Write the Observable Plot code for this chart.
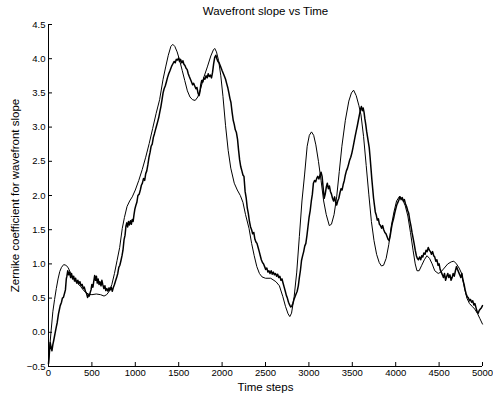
<!DOCTYPE html>
<html>
<head>
<meta charset="utf-8">
<script src="https://cdn.jsdelivr.net/npm/d3@7"></script>
<script src="https://cdn.jsdelivr.net/npm/@observablehq/plot@0.6"></script>
<style>
  html, body { margin: 0; padding: 0; background: #fff; }
  #chart { width: 493px; height: 397px; }
</style>
</head>
<body>
<div id="chart"></div>
<script>
const titleText = "Wavefront slope vs Time";
const xLabel = "Time steps";
const yLabel = "Zernike coefficient for wavefront slope";
const xTicks = [0, 500, 1000, 1500, 2000, 2500, 3000, 3500, 4000, 4500, 5000];
const yTicks = [-0.5, 0, 0.5, 1, 1.5, 2, 2.5, 3, 3.5, 4, 4.5];

// Smooth curve
const smoothT = [0,15,30,50,70,90,110,130,150,175,200,225,250,280,310,340,370,400,430,460,500,550,600,640,670,700,730,760,790,820,850,875,905,935,965,1000,1040,1080,1120,1160,1200,1240,1280,1320,1350,1380,1410,1432,1455,1482,1510,1540,1570,1600,1630,1660,1690,1720,1750,1790,1830,1870,1900,1915,1935,1960,1985,2010,2040,2070,2100,2140,2175,2210,2240,2270,2310,2340,2370,2400,2430,2460,2500,2560,2620,2660,2700,2730,2760,2780,2800,2830,2860,2890,2920,2950,2980,3005,3030,3055,3080,3110,3140,3170,3200,3235,3260,3290,3320,3350,3380,3420,3460,3490,3515,3545,3575,3600,3630,3660,3690,3720,3750,3780,3810,3835,3860,3890,3920,3950,3980,4010,4045,4080,4110,4140,4170,4200,4225,4245,4270,4300,4330,4360,4390,4420,4450,4490,4520,4560,4600,4640,4670,4700,4730,4760,4790,4820,4850,4880,4910,4940,4970,5000];
const smoothV = [-0.46,-0.20,0.02,0.30,0.48,0.64,0.78,0.89,0.95,0.99,0.98,0.95,0.88,0.80,0.75,0.71,0.67,0.62,0.58,0.56,0.55,0.56,0.55,0.53,0.55,0.60,0.70,0.86,1.05,1.24,1.52,1.68,1.84,1.92,1.98,2.08,2.22,2.38,2.56,2.76,2.98,3.20,3.40,3.70,3.88,4.05,4.18,4.21,4.18,4.10,3.98,3.83,3.68,3.53,3.44,3.40,3.39,3.44,3.55,3.73,3.88,4.04,4.13,4.15,4.10,3.97,3.75,3.45,3.02,2.66,2.40,2.18,2.08,2.00,1.90,1.72,1.52,1.30,1.12,0.96,0.86,0.81,0.79,0.79,0.74,0.68,0.52,0.38,0.27,0.23,0.28,0.52,0.88,1.40,1.92,2.30,2.72,2.88,2.93,2.88,2.74,2.50,2.22,1.92,1.72,1.56,1.58,1.72,1.98,2.35,2.72,3.10,3.38,3.50,3.54,3.46,3.32,3.18,2.86,2.44,2.02,1.62,1.34,1.14,1.02,0.97,0.98,1.08,1.28,1.56,1.76,1.92,1.99,1.94,1.85,1.70,1.46,1.20,1.00,0.90,0.90,0.98,1.06,1.12,1.08,1.00,0.90,0.86,0.88,0.94,1.00,1.03,1.04,1.00,0.94,0.86,0.66,0.50,0.42,0.38,0.34,0.28,0.20,0.12];

// Noisy measured curve
const noisyT = [0,10,20,30,40,50,60,75,90,100,115,125,135,150,160,172,185,195,205,212,222,232,242,255,265,278,290,300,312,325,338,350,362,375,388,400,412,425,438,450,460,470,480,490,500,512,522,532,542,552,562,572,582,592,605,615,625,638,650,660,672,685,698,710,722,735,748,760,772,785,798,810,822,835,847,858,870,882,892,902,912,922,932,945,955,965,975,985,995,1005,1018,1030,1045,1058,1070,1082,1095,1108,1120,1132,1145,1158,1170,1182,1195,1208,1220,1232,1245,1258,1270,1282,1295,1308,1320,1332,1345,1358,1370,1385,1398,1410,1422,1435,1448,1460,1472,1485,1498,1510,1522,1535,1548,1560,1572,1585,1598,1610,1622,1635,1648,1660,1672,1685,1698,1710,1722,1735,1745,1755,1765,1778,1790,1802,1815,1828,1840,1852,1865,1878,1890,1902,1915,1928,1940,1952,1965,1978,1990,2002,2015,2028,2040,2052,2065,2078,2090,2102,2115,2128,2140,2152,2165,2178,2190,2202,2215,2228,2240,2252,2265,2278,2290,2302,2315,2328,2340,2352,2365,2378,2390,2402,2415,2428,2440,2452,2465,2478,2490,2502,2515,2528,2540,2552,2565,2578,2590,2602,2615,2628,2640,2652,2665,2678,2690,2702,2715,2728,2740,2752,2765,2778,2790,2802,2815,2828,2840,2852,2865,2878,2890,2902,2915,2928,2940,2952,2965,2978,2990,3002,3015,3028,3040,3052,3065,3078,3090,3102,3115,3128,3140,3152,3165,3176,3188,3200,3212,3224,3236,3248,3260,3272,3284,3296,3308,3320,3332,3345,3358,3370,3382,3395,3408,3420,3432,3445,3458,3470,3482,3495,3508,3520,3532,3545,3558,3570,3582,3594,3605,3615,3625,3635,3645,3655,3665,3675,3685,3695,3705,3715,3725,3735,3745,3755,3765,3775,3788,3800,3812,3825,3838,3850,3862,3875,3888,3900,3912,3925,3938,3950,3962,3975,3988,4000,4012,4025,4038,4050,4062,4075,4088,4100,4112,4125,4138,4150,4162,4175,4188,4200,4212,4225,4238,4250,4262,4275,4288,4300,4312,4325,4338,4350,4362,4375,4388,4400,4412,4425,4438,4450,4462,4475,4488,4500,4512,4525,4538,4550,4562,4575,4588,4600,4612,4625,4638,4650,4662,4675,4688,4700,4712,4725,4738,4750,4762,4775,4788,4800,4812,4825,4838,4850,4862,4875,4888,4900,4912,4925,4938,4950,4962,4975,4988,5000];
const noisyV = [-0.46,-0.30,-0.15,-0.22,-0.27,-0.18,-0.12,-0.02,0.08,0.14,0.27,0.33,0.39,0.44,0.50,0.51,0.57,0.62,0.78,0.82,0.90,0.84,0.88,0.80,0.86,0.78,0.82,0.75,0.79,0.72,0.76,0.71,0.74,0.68,0.70,0.64,0.66,0.60,0.57,0.51,0.55,0.53,0.58,0.62,0.70,0.66,0.75,0.83,0.76,0.82,0.72,0.78,0.70,0.74,0.68,0.76,0.70,0.64,0.68,0.61,0.64,0.60,0.65,0.62,0.66,0.60,0.66,0.70,0.75,0.80,0.86,0.95,0.98,1.05,1.12,1.20,1.35,1.42,1.55,1.60,1.54,1.62,1.57,1.63,1.58,1.65,1.62,1.72,1.80,1.85,1.90,2.00,2.02,2.08,2.15,2.18,2.25,2.22,2.32,2.36,2.45,2.56,2.63,2.72,2.75,2.85,2.90,2.96,3.02,3.08,3.14,3.22,3.30,3.40,3.50,3.56,3.60,3.66,3.72,3.78,3.82,3.86,3.90,3.93,3.96,3.94,3.99,3.98,4.01,3.96,3.99,3.94,3.97,3.92,3.90,3.86,3.84,3.78,3.74,3.70,3.66,3.62,3.64,3.60,3.56,3.58,3.50,3.46,3.52,3.62,3.68,3.66,3.72,3.70,3.75,3.72,3.78,3.74,3.76,3.72,3.80,3.92,4.02,4.05,4.00,3.96,3.94,3.90,3.86,3.82,3.78,3.74,3.70,3.64,3.58,3.50,3.42,3.36,3.22,3.10,3.04,2.96,2.92,2.82,2.66,2.52,2.42,2.36,2.30,2.28,2.06,1.96,1.82,1.74,1.62,1.54,1.50,1.44,1.46,1.36,1.32,1.30,1.24,1.18,1.12,1.06,1.02,1.00,0.96,0.92,0.94,0.88,0.90,0.86,0.90,0.85,0.88,0.84,0.86,0.82,0.85,0.80,0.82,0.76,0.78,0.72,0.66,0.60,0.54,0.50,0.44,0.40,0.37,0.38,0.42,0.48,0.52,0.56,0.60,0.68,0.80,0.90,1.05,1.12,1.18,1.26,1.30,1.42,1.55,1.68,1.78,1.92,2.02,2.18,2.22,2.20,2.25,2.28,2.24,2.30,2.34,2.28,2.10,1.96,2.02,2.12,2.18,2.10,2.14,2.06,2.02,1.96,1.92,1.98,1.90,1.86,1.92,1.96,2.04,2.10,2.08,2.16,2.22,2.30,2.36,2.40,2.46,2.52,2.56,2.62,2.70,2.78,2.86,2.94,3.02,3.10,3.18,3.26,3.30,3.24,3.28,3.22,3.12,3.04,2.94,2.86,2.78,2.70,2.56,2.40,2.24,2.10,1.96,1.86,1.76,1.72,1.64,1.66,1.58,1.56,1.52,1.56,1.50,1.46,1.44,1.40,1.36,1.34,1.42,1.52,1.60,1.66,1.74,1.80,1.86,1.90,1.94,1.98,1.94,1.97,1.92,1.94,1.88,1.84,1.78,1.74,1.64,1.56,1.46,1.38,1.30,1.20,1.12,1.08,1.06,1.10,1.06,1.12,1.10,1.16,1.14,1.20,1.18,1.24,1.20,1.18,1.14,1.18,1.12,1.10,1.04,1.06,0.98,1.00,0.92,0.88,0.84,0.80,0.86,0.76,0.82,0.86,0.80,0.84,0.76,0.80,0.86,0.82,0.90,0.96,0.92,0.88,0.84,0.80,0.86,0.76,0.70,0.62,0.56,0.52,0.50,0.46,0.48,0.44,0.46,0.40,0.42,0.36,0.30,0.28,0.32,0.34,0.36,0.39];

const smooth = smoothT.map((t, i) => ({t, v: smoothV[i]}));
const noisy = noisyT.map((t, i) => ({t, v: noisyV[i]}));

const font = "'Liberation Sans', Arial, Helvetica, sans-serif";

const chart = Plot.plot({
  width: 493,
  height: 397,
  marginTop: 24,
  marginRight: 11,
  marginBottom: 31,
  marginLeft: 48,
  style: {fontFamily: font, fontSize: "9.5px", background: "#fff", color: "#000", overflow: "visible"},
  x: {domain: [0, 5000]},
  y: {domain: [-0.5, 4.5]},
  marks: [
    Plot.axisX({ticks: xTicks, tickSize: -4, tickPadding: 7, tickFormat: d => String(d), label: null}),
    Plot.axisY({ticks: yTicks, tickSize: -4, tickPadding: 7, label: null}),
    Plot.ruleX([0], {stroke: "#000"}),
    Plot.ruleY([-0.5], {stroke: "#000"}),
    Plot.line(smooth, {x: "t", y: "v", stroke: "#000", strokeWidth: 1}),
    Plot.line(noisy, {x: "t", y: "v", stroke: "#000", strokeWidth: 1.5}),
    Plot.text([titleText], {text: d => d, frameAnchor: "top", lineAnchor: "middle", textAnchor: "middle", dy: -13, fontSize: 11.5, fill: "#000"}),
    Plot.text([xLabel], {text: d => d, frameAnchor: "bottom", lineAnchor: "middle", textAnchor: "middle", dy: 21, fontSize: 11.5, fill: "#000"}),
    Plot.text([yLabel], {text: d => d, frameAnchor: "left", lineAnchor: "middle", textAnchor: "middle", dx: -33, rotate: -90, fontSize: 11.5, fill: "#000"})
  ]
});
document.getElementById("chart").appendChild(chart);
</script>
</body>
</html>
